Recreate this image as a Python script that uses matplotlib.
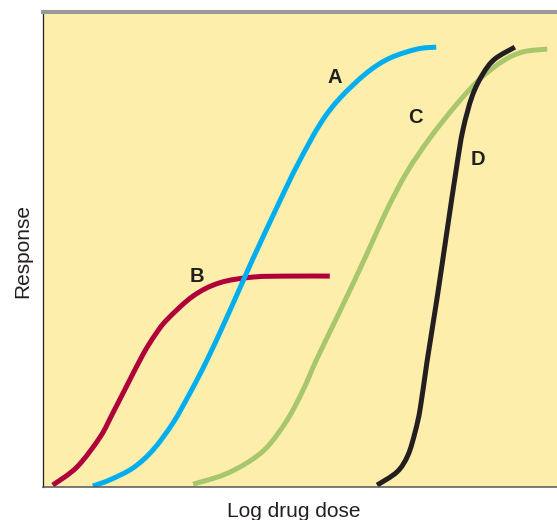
import matplotlib
matplotlib.use('Agg')
import matplotlib.pyplot as plt
from matplotlib.path import Path
from matplotlib.patches import PathPatch
import numpy as np

plt.rcParams['font.family'] = ['Liberation Sans', 'DejaVu Sans']

# dose (0-100 across the axis) and response (0-100, axis top = 100)
a_dose = [9.7, 13.0, 17.5, 21.4, 25.3, 28.6, 31.9, 35.8, 39.7, 41.8, 45.9, 49.4, 53.9, 57.8, 63.0, 67.5, 72.8, 76.5]
a_resp = [0.2, 1.5, 4.0, 7.8, 13.5, 19.8, 26.7, 35.8, 45.3, 50.3, 59.8, 67.6, 76.4, 81.9, 87.2, 90.3, 92.2, 92.6]

b_dose = [1.9, 6.6, 11.1, 13.6, 16.3, 19.5, 21.8, 24.1, 29.2, 34.4, 40.9, 48.1, 55.8]
b_resp = [0.4, 4.2, 10.5, 15.6, 21.3, 28.0, 32.0, 35.2, 40.2, 43.0, 44.2, 44.4, 44.4]

c_dose = [29.2, 35.0, 39.7, 43.6, 47.5, 50.6, 53.3, 57.8, 62.3, 66.9, 70.8, 75.3, 80.5, 85.0, 89.5, 93.4, 98.1]
c_resp = [0.6, 2.5, 5.1, 8.4, 14.1, 20.4, 27.0, 37.1, 47.4, 58.3, 66.3, 73.5, 80.6, 85.9, 89.7, 91.6, 92.2]

d_dose = [65.0, 68.9, 71.0, 72.4, 73.4, 74.7, 76.7, 78.6, 80.5, 81.7, 83.5, 85.6, 87.9, 91.8]
d_resp = [0.4, 3.2, 6.7, 11.6, 16.6, 26.3, 40.0, 53.9, 67.6, 75.2, 82.3, 87.0, 90.1, 92.6]

ink = '#231f20'


def smooth_path(xs, ys):
    # catmull-rom through the read points, drawn as cubic bezier segments
    p = np.column_stack([xs, ys])
    p = np.vstack([p[0], p, p[-1]])
    verts = [p[1]]
    codes = [Path.MOVETO]
    for i in range(1, len(p) - 2):
        c1 = p[i] + (p[i + 1] - p[i - 1]) / 6
        c2 = p[i + 1] - (p[i + 2] - p[i]) / 6
        verts += [c1, c2, p[i + 1]]
        codes += [Path.CURVE4] * 3
    return Path(verts, codes)


fig = plt.figure(figsize=(5.57, 5.2), dpi=100)
ax = fig.add_axes([43/557, 33/520, 514/557, 475/520])
ax.set_facecolor('#feeeac')

series = [(b_dose, b_resp, '#b0003a'),
          (a_dose, a_resp, '#00aeef'),
          (c_dose, c_resp, '#a8c66c'),
          (d_dose, d_resp, ink)]
for xs, ys, col in series:
    ax.add_patch(PathPatch(smooth_path(xs, ys), fill=False, edgecolor=col, lw=3.6,
                           capstyle='butt', joinstyle='round'))

# curve labels
lab = dict(fontsize=14.5, fontweight='bold', color=ink, ha='center', va='baseline')
ax.text(56.8, 85.0, 'A', **lab)
ax.text(30.0, 43.2, 'B', **lab)
ax.text(72.4, 76.6, 'C', **lab)
ax.text(84.6, 67.8, 'D', **lab)

ax.set_xlim(0, 100)
ax.set_ylim(0, 100)
ax.set_xticks([])
ax.set_yticks([])
ax.spines['right'].set_visible(False)
ax.spines['top'].set_color('#999999')
ax.spines['top'].set_linewidth(2.9)
ax.spines['left'].set_color(ink)
ax.spines['left'].set_linewidth(0.9)
ax.spines['bottom'].set_color('#555555')
ax.spines['bottom'].set_linewidth(1.1)

fig.text(294/557, 3/520, 'Log drug dose', fontsize=15, color=ink, ha='center', va='baseline')
fig.text(28/557, 1 - 250.5/520, 'Response', fontsize=15, color=ink, rotation=90,
         rotation_mode='anchor', ha='center', va='baseline')

fig.savefig('out.png', dpi=100)
